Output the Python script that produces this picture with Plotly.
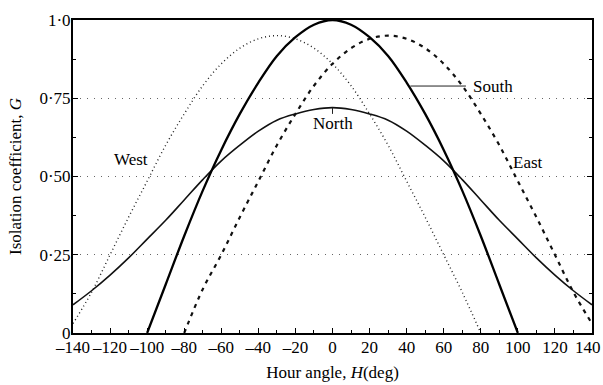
import plotly.graph_objects as go

# Hour angle H (deg) and insolation coefficient G
north_H = list(range(-140, 141, 10))
north_G = [0.09, 0.135, 0.185, 0.24, 0.30, 0.36, 0.425, 0.49, 0.55, 0.60, 0.645, 0.68, 0.70, 0.714, 0.72,
           0.714, 0.70, 0.68, 0.645, 0.60, 0.55, 0.49, 0.425, 0.36, 0.30, 0.24, 0.185, 0.135, 0.09]

south_H = list(range(-100, 101, 10))
south_G = [0.0, 0.155, 0.31, 0.455, 0.585, 0.70, 0.80, 0.885, 0.945, 0.985, 1.0,
           0.985, 0.945, 0.885, 0.80, 0.70, 0.585, 0.455, 0.31, 0.155, 0.0]

west_H = list(range(-140, 81, 10))
west_G = [0.03, 0.13, 0.25, 0.37, 0.485, 0.60, 0.70, 0.79, 0.86, 0.91, 0.94, 0.95,
          0.94, 0.91, 0.86, 0.79, 0.70, 0.60, 0.485, 0.37, 0.25, 0.13, 0.0]

east_H = list(range(-80, 141, 10))
east_G = [0.0, 0.14, 0.25, 0.37, 0.485, 0.60, 0.70, 0.79, 0.86, 0.91, 0.94, 0.95,
          0.94, 0.91, 0.86, 0.79, 0.70, 0.60, 0.485, 0.37, 0.25, 0.13, 0.03]

x_tickvals = list(range(-140, 141, 20))
x_ticktext = ["–140", "–120", "–100", "–80", "–60", "–40", "–20", "0",
              "20", "40", "60", "80", "100", "120", "140\u00a0\u00a0"]
y_tickvals = [0, 0.25, 0.5, 0.75, 1.0]
y_ticktext = ["0", "0·25", "0·50", "0·75", "1·0"]

FONT = "Liberation Serif"

fig = go.Figure()
fig.add_trace(go.Scatter(x=west_H, y=west_G, mode="lines", line_shape="spline",
                         line=dict(color="#222", width=1.4, dash="1px,3px")))
fig.add_trace(go.Scatter(x=east_H, y=east_G, mode="lines", line_shape="spline",
                         line=dict(color="#111", width=2.2, dash="4px,5px")))
fig.add_trace(go.Scatter(x=north_H, y=north_G, mode="lines", line_shape="spline",
                         line=dict(color="#111", width=1.6)))
fig.add_trace(go.Scatter(x=south_H, y=south_G, mode="lines", line_shape="spline",
                         line=dict(color="#000", width=2.3)))

ann_font = dict(family=FONT, size=17, color="#000")
fig.add_annotation(x=-108.5, y=0.553, text="West", showarrow=False, font=ann_font)
fig.add_annotation(x=0.3, y=0.668, text="North", showarrow=False, font=ann_font)
fig.add_annotation(x=86.8, y=0.789, text="South", showarrow=False, font=ann_font)
fig.add_annotation(x=105.7, y=0.546, text="East", showarrow=False, font=ann_font)

fig.add_shape(type="line", x0=42, x1=72, y0=0.789, y1=0.789, line=dict(color="#222", width=1))
fig.add_shape(type="line", x0=0, x1=0, y0=0.70, y1=0.72, line=dict(color="#222", width=1))

fig.update_layout(
    width=603, height=385,
    margin=dict(l=73, r=11, t=20, b=52, autoexpand=False),
    plot_bgcolor="white", paper_bgcolor="white",
    showlegend=False,
    font=dict(family=FONT, size=17, color="#000"),
)
fig.update_xaxes(
    range=[-140, 140], tickvals=x_tickvals, ticktext=x_ticktext, tickangle=0,
    automargin=False, ticklabeloverflow="allow", ticklabelstandoff=-2,
    ticks="inside", ticklen=5, tickcolor="#000", tickwidth=1,
    minor=dict(dtick=10, tick0=0, ticks="inside", ticklen=3, tickcolor="#000"),
    showline=True, linecolor="#000", linewidth=2, mirror=True,
    showgrid=False, zeroline=False,
    title=dict(text="Hour angle, <i>H</i>(deg)", font=dict(family=FONT, size=17), standoff=10),
    tickfont=dict(family=FONT, size=17),
)
fig.update_yaxes(
    range=[0, 1.0], tickvals=y_tickvals, ticktext=y_ticktext,
    automargin=False, ticklabeloverflow="allow", ticklabelstandoff=-3,
    ticks="inside", ticklen=5, tickcolor="#000", tickwidth=1,
    minor=dict(dtick=0.125, tick0=0, ticks="inside", ticklen=3, tickcolor="#000"),
    showline=True, linecolor="#000", linewidth=2, mirror="ticks",
    showgrid=True, gridcolor="#666", griddash="1px,6px", gridwidth=1,
    zeroline=False,
    title=dict(text="Isolation coefficient, <i>G</i>", font=dict(family=FONT, size=17), standoff=13),
    tickfont=dict(family=FONT, size=17),
)

fig.write_html(
    "out.html",
    config={"displayModeBar": False},
    post_script="document.body.style.margin='0';document.body.style.overflow='hidden';",
)
